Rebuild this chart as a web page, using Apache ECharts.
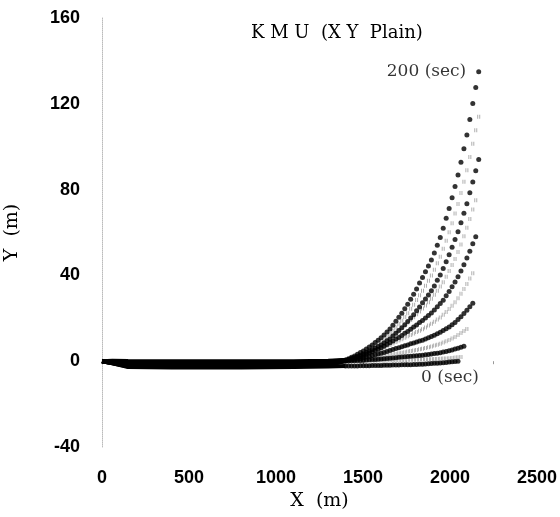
<!DOCTYPE html>
<html><head><meta charset="utf-8">
<script src="https://cdn.jsdelivr.net/npm/echarts@6/dist/echarts.min.js"></script>
<style>html,body{margin:0;padding:0;background:#fff}#c{width:560px;height:517px}</style>
</head><body><div id="c"></div><script>
// ---- data ----
const xTickLabels = [0, 500, 1000, 1500, 2000, 2500];
const xMinorTicks = [250, 500, 750, 1000, 1250, 1500, 1750, 2000, 2250];
const yTickLabels = [-40, 0, 40, 80, 120, 160];
const times = [0, 20, 40, 60, 80, 100, 120, 140, 160, 180, 200];

// flat (sea-bed) part, X positions shared by every snapshot
const flatX = [0, 60, 150, 400, 800, 1100, 1300, 1400];
const flat0   = [0, -1.0, -2.7, -2.9, -2.9, -2.7, -2.5, -2.2];
const flat20  = [0, -1.0, -2.5, -2.7, -2.7, -2.5, -1.7, 0.02];
const flat40  = [0, -0.9, -2.3, -2.5, -2.5, -2.3, -1.5, 0.07];
const flat60  = [0, -0.8, -2.1, -2.3, -2.3, -2.1, -1.3, 0.15];
const flat80  = [0, -0.7, -1.8, -2.0, -2.0, -1.8, -1.0, 0.3];
const flat100 = [0, -0.6, -1.6, -1.7, -1.7, -1.5, -0.8, 0.4];
const flat120 = [0, -0.5, -1.3, -1.4, -1.4, -1.3, -0.6, 0.4];
const flat140 = [0, -0.4, -1.0, -1.1, -1.1, -1.0, -0.4, 0.5];
const flat160 = [0, -0.3, -0.7, -0.8, -0.8, -0.7, -0.2, 0.4];
const flat180 = [0, -0.1, -0.4, -0.5, -0.5, -0.4, 0.0, 0.5];
const flat200 = [0, 0.2, 0.1, 0.0, 0.0, 0.0, 0.2, 0.6];

// node X positions of the rising part
const nodeX = [1400,1417,1434,1451,1468,1485,1502,1519,1536,1553,1570,1587,1604,1621,1638,1655,1672,1689,1706,1723,1740,1757,1774,1791,1808,1825,1842,1859,1876,1893,1910,1927,1944,1961,1978,1995,2012,2029,2046,2063,2080,2097,2114,2131,2148,2165];
// node Y positions of each snapshot
const rise0   = [-2.2,-2.2,-2.2,-2.2,-2.2,-2.1,-2.1,-2.1,-2.1,-2.0,-2.0,-2.0,-2.0,-1.9,-1.9,-1.9,-1.8,-1.8,-1.8,-1.7,-1.7,-1.6,-1.6,-1.5,-1.5,-1.4,-1.4,-1.3,-1.2,-1.1,-1.0,-0.9,-0.8,-0.7,-0.6,-0.4,-0.3,-0.1,0.0];
const rise20  = [0.02,0.04,0.05,0.07,0.08,0.1,0.13,0.16,0.18,0.21,0.24,0.27,0.3,0.34,0.37,0.41,0.44,0.48,0.51,0.55,0.58,0.62,0.65,0.69,0.72,0.77,0.81,0.86,0.9,0.96,1.02,1.08,1.15,1.23,1.31,1.42,1.54,1.7,1.86,2.0];
const rise40  = [0.07,0.12,0.18,0.23,0.28,0.36,0.44,0.54,0.63,0.74,0.84,0.95,1.05,1.17,1.3,1.42,1.54,1.66,1.79,1.91,2.03,2.15,2.28,2.4,2.52,2.67,2.82,2.99,3.15,3.34,3.54,3.76,3.99,4.27,4.55,4.9,5.25,5.67,6.09,6.55,7];
const rise60  = [0.15,0.26,0.37,0.48,0.59,0.75,0.92,1.11,1.31,1.53,1.74,1.97,2.18,2.43,2.69,2.94,3.2,3.45,3.71,3.97,4.22,4.48,4.73,4.99,5.25,5.53,5.84,6.17,6.51,6.87,7.27,7.69,8.17,8.67,9.25,9.86,10.59,11.34,12.22,13.1,14.05,15];
const rise80  = [0.3,0.5,0.7,0.8,1.0,1.3,1.6,1.9,2.2,2.6,3.0,3.3,3.7,4.1,4.5,5.0,5.4,5.9,6.3,6.7,7.2,7.6,8.1,8.5,8.9,9.4,9.8,10.4,10.9,11.5,12.1,12.8,13.5,14.3,15.1,16.0,17.0,18.1,19.4,20.7,22.2,23.7,25.4,27];
const rise100 = [0.4,0.7,1.0,1.3,1.6,2.0,2.4,2.9,3.4,3.9,4.5,5.1,5.6,6.2,6.9,7.6,8.2,8.9,9.6,10.2,10.9,11.6,12.2,12.9,13.6,14.2,14.9,15.7,16.6,17.5,18.4,19.4,20.4,21.6,22.9,24.3,25.8,27.5,29.4,31.4,33.7,36.0,38.5,41];
const rise120 = [0.4,0.8,1.1,1.4,1.8,2.2,2.7,3.2,3.8,4.4,5.0,5.6,6.3,7.0,7.8,8.6,9.4,10.3,11.1,12.0,13.0,13.9,14.9,15.9,16.9,18.0,19.0,20.1,21.3,22.5,23.9,25.4,26.9,28.4,30.5,32.5,34.7,36.9,39.4,42.1,45.0,48.1,51.3,54.7,58];
const rise140 = [0.5,1.0,1.4,1.9,2.3,2.9,3.5,4.2,4.9,5.6,6.5,7.3,8.2,9.0,10.0,11.1,12.2,13.3,14.4,15.6,16.7,18.0,19.2,20.5,21.9,23.2,24.6,26.0,27.5,29.1,31.0,32.8,34.8,36.8,39.4,42.0,44.8,47.7,50.9,54.4,58.2,62.2,66.3,70.7,75];
const rise160 = [0.4,0.8,1.3,1.7,2.2,2.8,3.3,4.0,4.6,5.3,6.1,6.8,7.6,8.5,9.5,10.4,11.7,13.0,14.3,15.6,17.0,18.5,20.1,21.7,23.5,25.3,27.2,29.0,30.9,32.9,35.1,37.7,40.2,43.2,46.4,49.6,53.1,56.7,60.4,64.6,69.0,73.4,78.5,83.6,88.8,94];
const rise180 = [0.5,1.0,1.5,2.0,2.7,3.4,4.1,4.8,5.6,6.4,7.3,8.3,9.2,10.3,11.5,12.7,14.2,15.7,17.3,18.9,20.6,22.4,24.4,26.3,28.5,30.7,32.9,35.2,37.5,39.9,42.6,45.7,48.7,52.4,56.2,60.1,64.3,68.8,73.3,78.4,83.7,89.0,95.2,101.4,107.7,114];
const rise200 = [0.6,1.2,1.8,2.4,3.2,4.0,4.8,5.7,6.6,7.6,8.7,9.8,10.9,12.2,13.6,15.0,16.8,18.6,20.5,22.4,24.4,26.5,28.9,31.2,33.7,36.4,39.0,41.7,44.4,47.2,50.4,54.1,57.7,62.0,66.6,71.2,76.2,81.5,86.8,92.8,99.1,105.4,112.7,120.1,127.6,135];

const flats = [flat0, flat20, flat40, flat60, flat80, flat100, flat120, flat140, flat160, flat180, flat200];
const rises = [rise0, rise20, rise40, rise60, rise80, rise100, rise120, rise140, rise160, rise180, rise200];

// ---- chart ----
const serif = 'DejaVu Serif';
const grayMark = 'path://M0,0H1V4H0ZM2,0H3V4H2Z';
const labelText = { fontFamily: serif, fontSize: 17, color: '#000', textBorderWidth: 0, textShadowBlur: 0 };
const series = [];
times.forEach((t, k) => {
  const black = k % 2 === 0;
  series.push({
    type: 'line', data: flatX.map((x, i) => [x, flats[k][i]]),
    symbol: 'none', lineStyle: { color: '#000', width: 4 }, z: 2, silent: true
  });
  const pts = rises[k].map((y, i) => [nodeX[i], y]);
  const last = pts.length - 1;
  if (t === 200) {
    pts[last] = { value: pts[last], label: Object.assign({ show: true, formatter: '200 (sec)', position: 'left', distance: 10 }, labelText) };
  }
  if (t === 0) {
    pts[last] = { value: pts[last], label: Object.assign({ show: true, formatter: '0 (sec)', position: 'bottom', distance: 5, offset: [-8, 0] }, labelText) };
  }
  series.push({
    type: 'scatter', data: pts,
    symbol: black ? 'circle' : grayMark,
    symbolSize: black ? 5 : [3, 4],
    itemStyle: { color: black ? '#000' : '#9a9a9a' },
    z: black ? 4 : 3, silent: true
  });
});

const chart = echarts.init(document.getElementById('c'));
chart.setOption({
  animation: false,
  backgroundColor: '#fff',
  title: { text: 'K M U  (X Y  Plain)', left: 246, top: 19,
    textStyle: { fontFamily: serif, fontWeight: 'normal', fontSize: 18, color: '#000' } },
  grid: { left: 102, right: 23, top: 18, bottom: 70, containLabel: false, outerBoundsMode: 'none' },
  xAxis: {
    type: 'value', min: 0, max: 2500, interval: 250,
    name: 'X  (m)', nameLocation: 'middle', nameGap: 40,
    nameTextStyle: { fontFamily: serif, fontSize: 19, color: '#000' },
    axisLine: { show: false },
    axisTick: { show: true, length: 3, customValues: xMinorTicks, lineStyle: { color: '#999' } },
    axisLabel: { customValues: xTickLabels, formatter: v => String(v), margin: 22,
      fontFamily: 'Liberation Sans', fontWeight: 'bold', fontSize: 18, color: '#000' },
    splitLine: { show: false }
  },
  yAxis: {
    type: 'value', min: -40, max: 160, interval: 40,
    name: 'Y  (m)', nameLocation: 'middle', nameGap: 80, nameRotate: 90,
    nameTextStyle: { fontFamily: serif, fontSize: 19, color: '#000' },
    axisLine: { show: true, lineStyle: { color: '#bbb', type: 'dotted', width: 1 } },
    axisTick: { show: false },
    axisLabel: { customValues: yTickLabels, formatter: v => String(v), margin: 22,
      fontFamily: 'Liberation Sans', fontWeight: 'bold', fontSize: 18, color: '#000' },
    splitLine: { show: false }
  },
  series: series
});
</script></body></html>
